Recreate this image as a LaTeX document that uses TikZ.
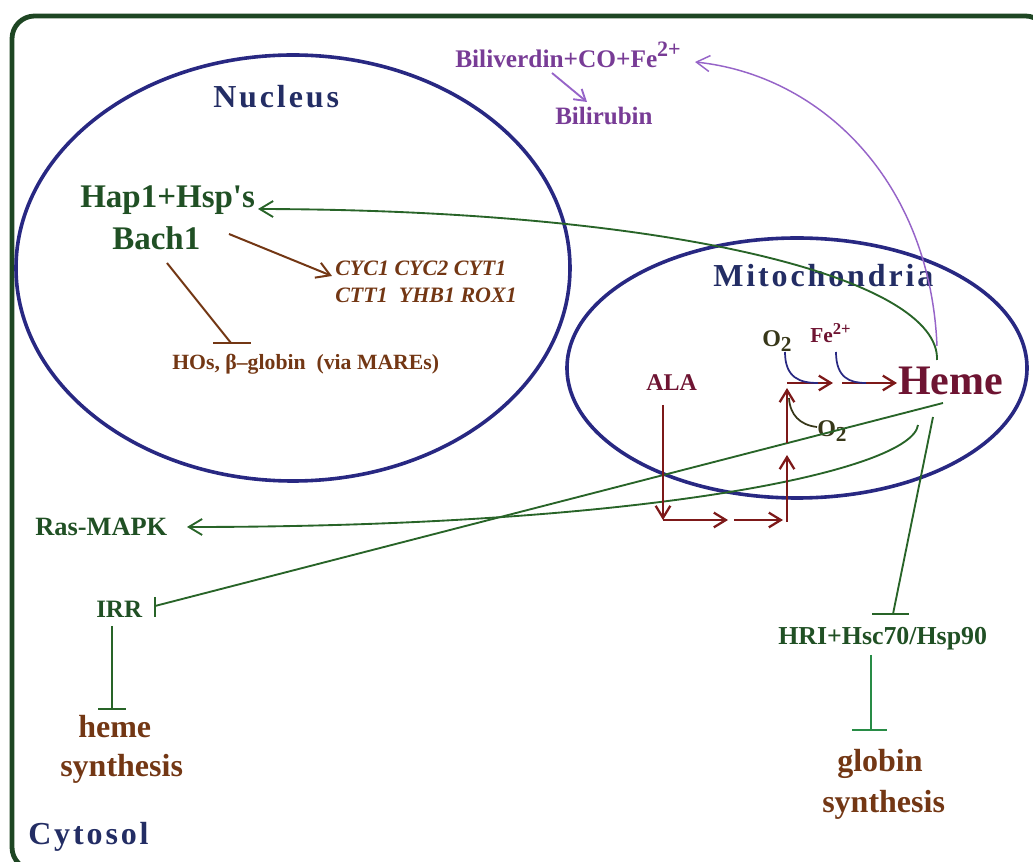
\documentclass[tikz,border=0pt]{standalone}
\usepackage{fontspec}
\setmainfont{Liberation Serif}[Ligatures=TeXOff]
\usetikzlibrary{arrows.meta}
\definecolor{borderC}{RGB}{30,70,35}
\definecolor{navyL}{RGB}{40,40,130}
\definecolor{navyT}{RGB}{35,45,100}
\definecolor{greenT}{RGB}{32,80,36}
\definecolor{greenL}{RGB}{40,100,40}
\definecolor{greenLt}{RGB}{40,140,70}
\definecolor{brownT}{RGB}{115,55,20}
\definecolor{maroonT}{RGB}{110,20,50}
\definecolor{redA}{RGB}{125,25,25}
\definecolor{purpleT}{RGB}{120,60,150}
\definecolor{purpleL}{RGB}{150,100,200}
\definecolor{oliveT}{RGB}{55,55,25}
\newcommand{\fsz}[1]{\fontsize{#1}{#1}\selectfont}
\newcommand{\spaced}{\addfontfeatures{LetterSpace=9}}
\begin{document}
\begin{tikzpicture}[x=0.75pt,y=-0.75pt,
  txt/.style={inner sep=0pt, anchor=base west},
  ell/.style={draw=navyL, line width=2.7pt},
  gline/.style={draw=greenL, line width=1.4pt},
  pline/.style={draw=purpleL, line width=1.1pt},
  rline/.style={draw=redA, line width=1.7pt},
  barb/.style={-{Straight Barb[length=10pt,width=12pt]}},
  rbarb/.style={-{Straight Barb[length=9pt,width=11pt]}}
]
\useasboundingbox (0,0) rectangle (1033,862);
\begin{scope}
\clip (0,0) rectangle (1033,862);
\draw[draw=borderC, line width=3.6pt, rounded corners=17pt] (12,16) rectangle (1048,870);
\end{scope}

% compartments
\draw[ell] (293,268) ellipse [x radius=277, y radius=213];
\draw[ell] (797,368) ellipse [x radius=230, y radius=130];

% labels
\node[txt, text=navyT, font=\bfseries\fsz{24}\spaced] (nuc) at (213,108) {Nucleus};
\node[txt, text=navyT, font=\bfseries\fsz{24}\spaced] (mito) at (713,287) {Mitochondria};
\node[txt, text=navyT, font=\bfseries\fsz{24}\spaced] (cyto) at (28,845) {Cytosol};

\node[txt, text=purpleT, font=\bfseries\fsz{19}] (bili) at (455,68) {Biliverdin+CO+Fe\raisebox{0.45em}{\fsz{16.5}2+}};
\node[txt, text=purpleT, font=\bfseries\fsz{18.75}] (rubin) at (555,125) {Bilirubin};

\node[txt, text=greenT, font=\bfseries\fsz{24.75}] (hap) at (80,208) {Hap1+Hsp's};
\node[txt, text=greenT, font=\bfseries\fsz{24.75}] (bach) at (112,250) {Bach1};
\node[txt, text=brownT, font=\bfseries\itshape\fsz{16.5}] (cyc) at (335,276) {CYC1 CYC2 CYT1};
\node[txt, text=brownT, font=\bfseries\itshape\fsz{16.5}] (ctt) at (335,303) {CTT1\ \ YHB1 ROX1};
\node[txt, text=brownT, font=\bfseries\fsz{16.3}] (hos) at (172,370) {HOs, β–globin\ \ (via MAREs)};

\node[txt, text=maroonT, font=\bfseries\fsz{18}] (ala) at (646,391) {ALA};
\node[txt, text=oliveT, font=\bfseries\fsz{18}] (o2a) at (762,347) {O\raisebox{-0.2em}{\fsz{16}2}};
\node[txt, text=maroonT, font=\bfseries\fsz{16}] (fe) at (810,343) {Fe\raisebox{0.42em}{\fsz{12.5}2+}};
\node[txt, text=maroonT, font=\bfseries\fsz{31.5}] (heme) at (898,395) {Heme};
\node[txt, text=oliveT, font=\bfseries\fsz{18}] (o2b) at (817,437) {O\raisebox{-0.2em}{\fsz{16}2}};

\node[txt, text=greenT, font=\bfseries\fsz{19.8}] (ras) at (35,536) {Ras-MAPK};
\node[txt, text=greenT, font=\bfseries\fsz{18.75}] (irr) at (96,618) {IRR};
\node[txt, text=brownT, font=\bfseries\fsz{24}] (hs1) at (78,738) {heme};
\node[txt, text=brownT, font=\bfseries\fsz{24}] (hs2) at (60,777) {synthesis};
\node[txt, text=greenT, font=\bfseries\fsz{19.4}] (hri) at (778,645) {HRI+Hsc70/Hsp90};
\node[txt, text=brownT, font=\bfseries\fsz{24}] (gs1) at (837,772) {globin};
\node[txt, text=brownT, font=\bfseries\fsz{24}] (gs2) at (822,813) {synthesis};

% connector end points
\coordinate (hemeP) at (937,346);
\coordinate (hemeG) at (937,360);
\coordinate (hemeR) at (918,425);
\coordinate (hemeI) at (943,403);
\coordinate (hemeH) at (933,417);
\coordinate (biliE) at (695,62);
\coordinate (biliS) at (552,73);
\coordinate (rubinE) at (587,102);
\coordinate (hapE) at (258,209);
\coordinate (rasE) at (187,527);
\coordinate (irrE) at (155,606);
\coordinate (hriE) at (893,614);
\coordinate (bachS) at (229,234);
\coordinate (cycE) at (332,276);
\coordinate (bachI) at (167,263);
\coordinate (hosE) at (231,343);
\coordinate (irrS) at (112,626);
\coordinate (hsE) at (112,709);
\coordinate (hriS) at (871,655);
\coordinate (gsE) at (871,730);

% heme degradation (purple)
\draw[pline, barb] (hemeP) .. controls (930,180) and (820,75) .. (biliE);
\draw[pline, line width=1.4pt, -{Straight Barb[length=8pt,width=10pt]}] (biliS) -- (rubinE);

% heme signalling (green)
\draw[gline, barb] (hemeG) .. controls (940,280) and (680,210) .. (hapE);
\draw[gline, barb] (hemeR) .. controls (912,470) and (650,527) .. (rasE);
\draw[gline] (hemeI) -- (irrE);
\draw[gline] (155,597) -- (155,617);
\draw[gline] (hemeH) -- (hriE);
\draw[gline] (872,614) -- (909,614);
\draw[gline] (irrS) -- (hsE);
\draw[gline] (98,709) -- (126,709);
\draw[draw=greenLt, line width=1.4pt] (hriS) -- (gsE);
\draw[draw=greenLt, line width=1.4pt] (852,730) -- (887,730);

% nucleus regulation (brown)
\draw[draw=brownT, line width=1.5pt, barb] (bachS) -- (cycE);
\draw[draw=brownT, line width=1.5pt] (bachI) -- (hosE);
\draw[draw=brownT, line width=1.5pt] (213,343) -- (251,343);

% heme synthesis pathway (red)
\draw[rline, rbarb] (663,405) -- (663,520);
\draw[rline, rbarb] (663,520) -- (728,520);
\draw[rline, rbarb] (734,520) -- (783,520);
\draw[rline, rbarb] (787,522) -- (787,455);
\draw[rline, rbarb] (787,443) -- (787,388);
\draw[rline, rbarb] (787,383) -- (833,383);
\draw[rline, rbarb] (842,383) -- (897,383);

% co-substrates
\draw[draw=navyL, line width=1.3pt] (785,352) .. controls (785,378) and (800,383) .. (818,383);
\draw[draw=navyL, line width=1.3pt] (836,352) .. controls (836,378) and (850,383) .. (866,383);
\draw[draw=oliveT, line width=1.3pt] (817,427) .. controls (800,425) and (790,415) .. (789,398);
\end{tikzpicture}
\end{document}
